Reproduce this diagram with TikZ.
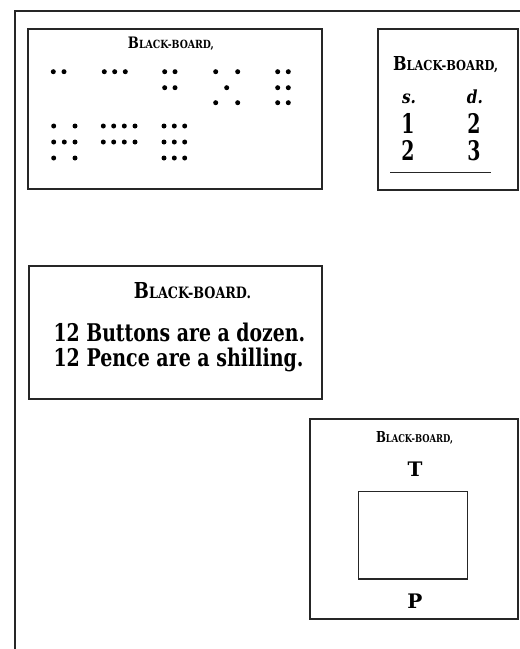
\documentclass[tikz,border=0pt]{standalone}
\usepackage{fontspec}
\usepackage{graphicx}
\setmainfont{DejaVu Serif}
\newcommand{\bbtitle}[1]{\bfseries{\fontsize{14}{14}\selectfont B}{\fontsize{10}{10}\selectfont LACK-BOARD#1}}
\tikzset{
  board/.style={draw=black!85, line width=1.2pt},
  dot/.style={fill=black},
  lbl/.style={inner sep=0pt, anchor=base},
}
\begin{document}
\begin{tikzpicture}[x=1pt,y=-1pt]
\useasboundingbox (0,0) rectangle (520,649);
% outer frame
\draw[board] (520,11) -- (15,11) -- (15,649);
% box 1: dots
\draw[board] (28,29) rectangle (322,189);
\node[lbl] (t1) at (171,48) {\resizebox{86pt}{11.5pt}{\bbtitle{,}}};
\foreach \x/\y in {53.3/71.7,64/71.7,
  104.3/71.7,114.7/71.7,125.3/71.7,
  164.7/71.7,175/71.7,164.7/87.7,175/87.7,
  215.7/71.7,237.7/71.7,226.7/87.7,215.7/102.7,237.7/102.7,
  277.7/71.7,288.3/71.7,277.7/87.7,288.3/87.7,277.7/102.7,288.3/102.7,
  53.7/126,75/126,53.7/142,64.3/142,75/142,53.7/158,75/158,
  103.3/126,113.7/126,124.3/126,135/126,103.3/142,113.7/142,124.3/142,135/142,
  164/126,174.3/126,184.7/126,164/142,174.3/142,184.7/142,164/158,174.3/158,184.7/158}
  \fill[dot] (\x,\y) circle (2.5pt);
% box 2: s. d.
\draw[board] (378,29) rectangle (518,190);
\node[lbl] (t2) at (445.5,70) {\resizebox{105pt}{14pt}{\bbtitle{,}}};
\node[lbl] (s) at (409,103) {\scalebox{0.85}[1]{\fontsize{18}{18}\selectfont\bfseries\itshape s.}};
\node[lbl] (d) at (475,103) {\scalebox{0.85}[1]{\fontsize{18}{18}\selectfont\bfseries\itshape d.}};
\node[lbl] (one) at (408,133) {\scalebox{0.7}[1]{\fontsize{27}{27}\selectfont\bfseries 1}};
\node[lbl] (two) at (474,133) {\scalebox{0.7}[1]{\fontsize{27}{27}\selectfont\bfseries 2}};
\node[lbl] (two2) at (408,160) {\scalebox{0.7}[1]{\fontsize{27}{27}\selectfont\bfseries 2}};
\node[lbl] (three) at (474,160) {\scalebox{0.7}[1]{\fontsize{27}{27}\selectfont\bfseries 3}};
\draw[board] (390,172.5) -- (491,172.5);
% box 3: text
\draw[board] (29,266) rectangle (322,399);
\node[lbl] (t3) at (192.5,298) {\resizebox{117pt}{16pt}{\bbtitle{.}}};
\node[lbl, anchor=base west] (l1) at (53.3,341.7) {\resizebox{251.7pt}{18.5pt}{\fontsize{24}{24}\selectfont\bfseries 12 Buttons are a dozen.}};
\node[lbl, anchor=base west] (l2) at (53.3,366.7) {\resizebox{250pt}{18.5pt}{\fontsize{24}{24}\selectfont\bfseries 12 Pence are a shilling.}};
% box 4: T / P
\draw[board] (310,419) rectangle (518,619);
\node[lbl] (t4) at (414.5,442) {\resizebox{77pt}{11pt}{\bbtitle{,}}};
\node[lbl] (T) at (415,476.5) {\fontsize{20}{20}\selectfont\bfseries T};
\node[lbl] (P) at (415,608) {\fontsize{20}{20}\selectfont\bfseries P};
\draw[board, line width=1.1pt] (358.3,491.7) rectangle (467.7,579);
\end{tikzpicture}
\end{document}
